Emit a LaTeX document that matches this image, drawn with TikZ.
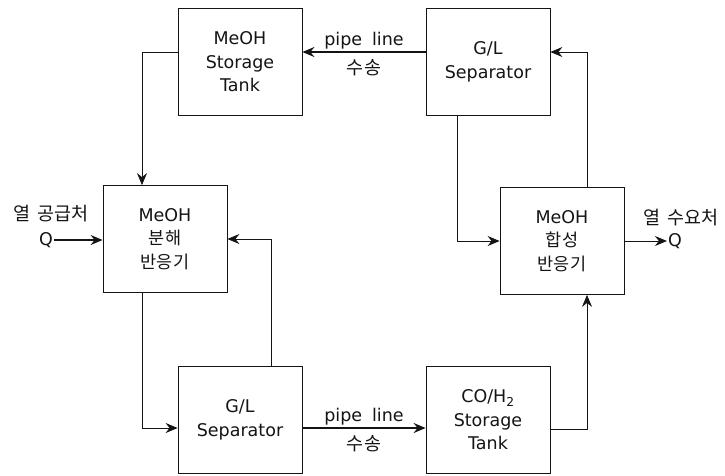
\documentclass[tikz,border=0pt]{standalone}
\usepackage{fontspec}
\setmainfont{DejaVu Sans}
\newfontfamily\krfont{Noto Sans CJK KR}
\usepackage{tikz}
\usetikzlibrary{arrows.meta,positioning,calc}
\definecolor{ink}{RGB}{20,20,20}
\tikzset{
  unit/.style={draw=ink,line width=0.8pt,minimum width=124pt,minimum height=107pt,
    align=center,inner sep=0pt,text=ink,font=\fontsize{17.5}{23.5}\selectfont},
  flow/.style={line width=0.8pt,ink,-{Stealth[length=12pt,width=10pt,inset=4pt]}},
  pipe/.style={line width=1.6pt,ink,-{Stealth[length=12pt,width=10pt,inset=4pt]}},
  label/.style={text=ink,font=\fontsize{17.5}{21}\selectfont,inner sep=1pt},
  klabel/.style={text=ink,font=\fontsize{18.5}{21}\selectfont\krfont,inner sep=1pt}
}
\begin{document}
\begin{tikzpicture}[x=1pt,y=-1pt]
  \useasboundingbox (0,0) rectangle (725,475);
  \node[unit] (stank) at (240,62) {MeOH\\Storage\\Tank};
  \node[unit] (sepR) at (488,62) {G/L\\Separator};
  \node[unit] (dreac) at (165,239) {MeOH\\{\krfont 분해}\\{\krfont 반응기}};
  \node[unit] (sreac) at (562,241) {MeOH\\{\krfont 합성}\\{\krfont 반응기}};
  \node[unit] (sepL) at (240,420) {G/L\\Separator};
  \node[unit] (cotank) at (488,420) {CO/H\textsubscript{2}\\Storage\\Tank};

  \node[label] (qin) at (46,240) {Q};
  \node[klabel] (heatin) at (51,214) {열\hspace{0.35em}공급처};
  \node[label] (qout) at (675,241) {Q};
  \node[klabel] (heatout) at (681,218) {열\hspace{0.35em}수요처};

  \draw[pipe] ([yshift=10pt]sepR.west) -- ([yshift=10pt]stank.east)
    node[label,midway,above=1pt] (pipetop) {pipe\hspace{0.25em} line}
    node[klabel,midway,below=6pt] (sendtop) {수송};
  \draw[pipe] ([yshift=-8pt]sepL.east) -- ([yshift=-8pt]cotank.west)
    node[label,midway,above=1pt] (pipebot) {pipe\hspace{0.25em} line}
    node[klabel,midway,below=6pt] (sendbot) {수송};

  \draw[flow] ([yshift=10pt]stank.west) -| ([xshift=-23pt]dreac.north);
  \draw[flow] ([xshift=-23pt]dreac.south) |- ([yshift=-8pt]sepL.west);
  \draw[flow] ([xshift=31pt]sepL.north) |- (dreac.east);
  \draw[flow] ([yshift=-9pt]cotank.east) -| ([xshift=25pt]sreac.south);
  \draw[flow] ([xshift=25pt]sreac.north) |- ([yshift=10pt]sepR.east);
  \draw[flow] ([xshift=-31pt]sepR.south) |- (sreac.west);
  \draw[pipe,line width=1.3pt] (qin.east) -- (dreac.west |- qin.east);
  \draw[flow] (sreac.east) -- (qout.west);
\end{tikzpicture}
\end{document}
